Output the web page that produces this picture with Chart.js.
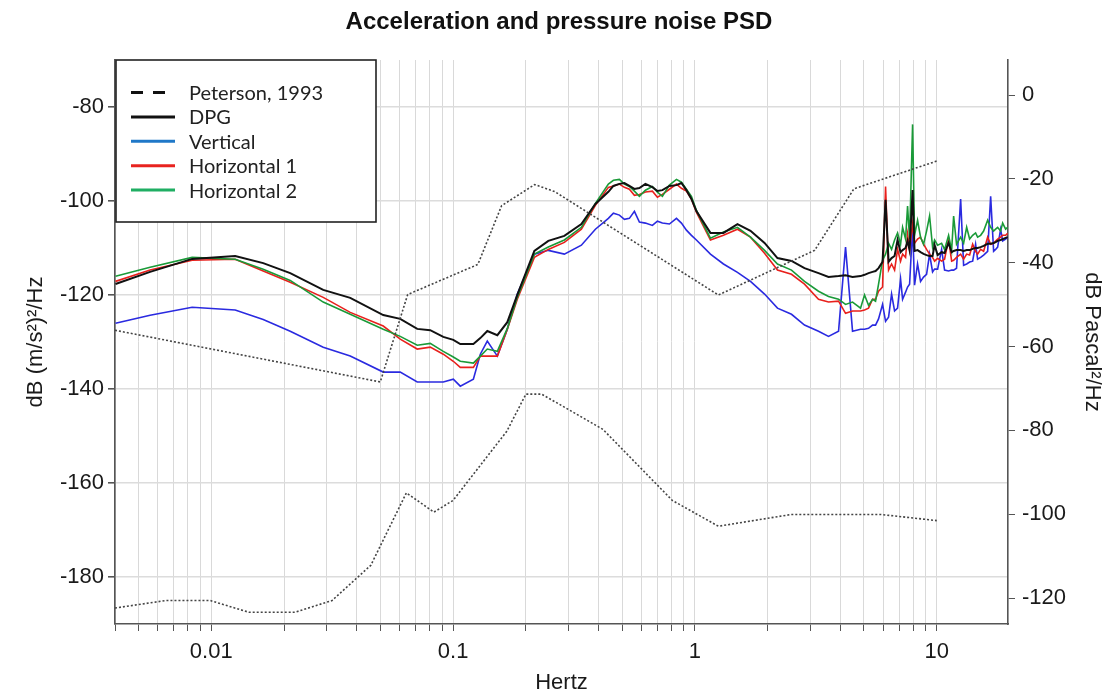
<!DOCTYPE html>
<html><head><meta charset="utf-8">
<script src="https://cdn.jsdelivr.net/npm/chart.js@4/dist/chart.umd.min.js"></script>
<style>html,body{margin:0;padding:0;background:#fff;}#wrap{width:1118px;height:692px;}</style>
</head><body><div id="wrap"><canvas id="c" width="1118" height="692" style="width:1118px;height:692px"></canvas></div>
<script>
// ---------- data ----------
const freqs = [0.00402,0.005588,0.008337,0.01256,0.0164,0.02121,0.02904,0.03756,0.05143,0.06046,0.07108,0.08044,0.0911,0.1002,0.1071,0.1213,0.1296,0.1385,0.1524,0.1676,0.1843,0.2168,0.2476,0.2884,0.3392,0.3876,
  0.4386,0.4601,0.4871,0.511,0.5357,0.562,0.5893,0.6241,0.667,0.6995,0.7336,0.7843,0.8386,0.8793,0.9222,0.9672,
  1.014,1.159,1.312,1.499,1.697,1.94,2.194,2.508,2.838,3.243,3.567,3.925,4.195,4.484,4.839,
  5.026,5.222,5.425,5.582,5.744,5.968,6.141,6.319,6.502,6.691,6.884,7.084,7.221,7.429,7.572,7.718,7.943,8.092,8.327,8.568,8.817,9.073,9.337,9.607,9.793,10.08,10.47,10.77,11.19,11.52,11.74,12.07,12.55,12.91,13.29,13.67,14.07,14.47,14.75,15.18,15.62,16.23,16.7,17.18,17.51,17.85,18.36,18.72,19.26,19.63];
const vertical = [-126.0,-124.3,-122.6,-123.2,-125.2,-127.7,-131.1,-133.0,-136.4,-136.4,-138.5,-138.5,-138.5,-137.9,-139.4,-137.9,-132.6,-129.8,-133.0,-127.3,-119.8,-111.3,-110.5,-111.3,-109.4,-106.0,
  -103.7,-102.6,-103.0,-103.9,-103.7,-102.2,-104.5,-104.7,-105.2,-104.3,-104.7,-104.9,-103.7,-104.7,-106.2,-107.3,
  -108.3,-111.3,-113.4,-115.2,-117.1,-119.8,-122.8,-124.1,-126.4,-127.7,-128.8,-127.7,-109.8,-127.7,-127.3,
  -127.3,-127.1,-126.4,-126.4,-125.1,-122.0,-125.6,-124.7,-119.8,-123.4,-122.8,-116.6,-120.9,-119.4,-118.3,-117.7,-105.6,-117.9,-113.4,-117.1,-116.2,-115.6,-111.3,-115.1,-114.5,-114.5,-110.3,-114.7,-114.9,-114.7,-114.7,-114.3,-99.6,-113.7,-113.4,-113.0,-112.8,-109.2,-112.4,-112.0,-111.5,-110.7,-99.0,-110.7,-110.3,-109.8,-106.0,-108.5,-108.1,-107.7];
const horizontal1 = [-117.1,-114.7,-112.6,-112.4,-114.9,-117.3,-120.5,-123.7,-126.6,-129.4,-131.5,-131.1,-132.6,-134.1,-135.4,-135.4,-133.0,-133.0,-133.0,-127.3,-120.9,-112.0,-110.3,-108.8,-106.0,-100.9,
  -97.1,-96.8,-96.4,-97.1,-97.5,-98.8,-98.6,-98.1,-97.9,-99.2,-98.6,-97.5,-96.4,-97.3,-97.9,-99.6,
  -102.4,-108.3,-107.3,-106.0,-107.7,-111.1,-114.7,-115.6,-117.7,-120.9,-121.5,-121.3,-123.9,-123.4,-123.4,
  -123.2,-122.8,-120.9,-120.9,-119.2,-118.3,-96.9,-114.7,-113.4,-114.7,-110.3,-112.8,-111.3,-112.0,-107.1,-110.3,-104.9,-109.0,-108.1,-107.7,-109.2,-110.3,-111.3,-112.0,-112.8,-112.2,-112.8,-112.4,-108.1,-112.8,-112.6,-112.0,-111.3,-112.4,-111.3,-111.5,-109.2,-110.7,-111.3,-110.3,-110.7,-107.7,-109.2,-109.0,-108.5,-108.1,-107.7,-107.3,-107.3,-106.9];
const horizontal2 = [-116.0,-114.1,-112.0,-112.4,-114.5,-116.9,-121.5,-124.1,-127.3,-128.8,-130.7,-130.3,-132.0,-133.2,-134.1,-134.5,-133.0,-131.5,-132.0,-127.1,-120.5,-111.3,-109.8,-108.3,-105.6,-100.5,
  -96.4,-95.6,-95.4,-96.4,-96.9,-97.9,-99.0,-97.7,-96.9,-98.1,-99.0,-96.6,-95.4,-96.0,-97.5,-99.0,
  -102.0,-107.9,-106.6,-105.6,-107.7,-110.5,-113.4,-114.7,-117.1,-119.2,-120.3,-120.9,-122.0,-121.5,-122.8,
  -120.0,-122.2,-120.9,-121.3,-117.7,-112.6,-111.3,-109.0,-110.3,-108.3,-106.8,-109.2,-105.6,-108.1,-101.1,-108.1,-83.7,-107.3,-104.1,-107.7,-109.2,-106.4,-103.2,-109.8,-108.3,-109.4,-109.0,-110.3,-107.3,-110.5,-103.2,-109.2,-107.7,-109.0,-105.6,-108.1,-107.3,-106.8,-107.7,-107.3,-106.4,-104.1,-105.6,-106.4,-106.0,-105.6,-106.4,-104.7,-106.0,-105.6];
const dpg = [-45.1,-42.2,-39.1,-38.4,-40.1,-42.5,-46.5,-48.4,-52.5,-53.4,-55.8,-56.1,-57.7,-58.4,-59.4,-59.4,-58.0,-56.3,-57.3,-54.2,-47.7,-37.2,-34.8,-33.6,-30.8,-26.0,
  -23.1,-21.7,-21.2,-21.0,-21.7,-22.4,-22.2,-21.2,-22.0,-22.9,-22.7,-21.7,-21.5,-21.0,-22.7,-24.8,
  -27.7,-32.9,-32.9,-30.8,-32.4,-35.3,-38.9,-39.6,-41.3,-42.5,-43.4,-43.2,-43.0,-43.4,-43.2,
  -42.9,-42.5,-42.2,-42.0,-41.3,-39.8,-25.0,-39.8,-38.9,-38.4,-34.6,-37.5,-37.0,-36.5,-34.8,-37.0,-22.7,-37.2,-37.0,-37.5,-37.9,-38.2,-38.4,-38.4,-35.8,-38.2,-37.5,-37.7,-35.3,-37.5,-37.2,-37.0,-37.0,-37.2,-37.0,-37.0,-36.7,-36.5,-36.5,-36.3,-36.0,-35.5,-35.5,-35.3,-35.1,-34.8,-34.6,-34.4,-34.1,-33.9];
// Peterson (1993) low / high noise models
const nlnmFreqs = [0.004,0.0065,0.0099,0.0143,0.0222,0.0316,0.0457,0.0641,0.0833,0.1,0.1667,0.2,0.2326,0.4167,0.806,1.25,2.5,5.88,10];
const nlnmDb    = [-186.6,-185.0,-185.0,-187.5,-187.5,-185.0,-177.5,-162.1,-166.2,-163.7,-149.0,-141.1,-141.1,-148.6,-163.7,-169.2,-166.7,-166.7,-168.0];
const nhnmFreqs = [0.004,0.05,0.0649,0.1266,0.1587,0.2174,0.2632,1.25,3.125,4.545,10];
const nhnmDb    = [-127.5,-138.5,-119.9,-113.5,-101.0,-96.5,-98.0,-120.0,-110.5,-97.4,-91.5];
// ticks
const xTickValues = [0.004,0.005,0.006,0.007,0.008,0.009,0.01,0.02,0.03,0.04,0.05,0.06,0.07,0.08,0.09,0.1,0.2,0.3,0.4,0.5,0.6,0.7,0.8,0.9,1,2,3,4,5,6,7,8,9,10];
const xTickLabels = [0.01,0.1,1,10];
const leftTicks = [-180,-160,-140,-120,-100,-80];
const rightTicks = [-120,-100,-80,-60,-40,-20,0];
const seriesNames = ['Peterson, 1993','DPG','Vertical','Horizontal 1','Horizontal 2'];

// ---------- chart ----------
const pts = (xs, ys) => xs.map((x,i)=>({x:x, y:ys[i]}));
const FONT = "'Liberation Sans', Arial, sans-serif";
const line = (label, data, color, width, order, axis, dash) => ({
  label, data, borderColor: color, backgroundColor: color, borderWidth: width,
  pointRadius: 0, tension: 0, fill: false, order, yAxisID: axis, borderDash: dash || []
});

const legendPlugin = {
  id: 'boxLegend',
  afterDatasetsDraw(chart) {
    const ctx = chart.ctx;
    const L = 116, T = 60, W = 260, H = 162;
    const items = [
      {c:'#111', d:[12,10]}, {c:'#111'}, {c:'#1f78c8'}, {c:'#e8231f'}, {c:'#1fae63'}
    ];
    ctx.save();
    ctx.fillStyle = '#fff';
    ctx.fillRect(L, T, W, H);
    ctx.lineWidth = 1.6; ctx.strokeStyle = '#222';
    ctx.strokeRect(L, T, W, H);
    ctx.font = "20px Lato, 'Open Sans', sans-serif";
    ctx.textBaseline = 'middle';
    items.forEach((it, i) => {
      const y = 92.5 + i * 24.4;
      ctx.beginPath();
      ctx.setLineDash(it.d || []);
      ctx.lineWidth = 3; ctx.strokeStyle = it.c;
      ctx.moveTo(131, y); ctx.lineTo(175, y); ctx.stroke();
      ctx.setLineDash([]);
      ctx.fillStyle = '#222';
      ctx.fillText(seriesNames[i], 189, y + 1);
    });
    ctx.restore();
  }
};

new Chart(document.getElementById('c'), {
  type: 'line',
  data: {
    datasets: [
      line('Peterson NLNM', pts(nlnmFreqs, nlnmDb), '#444', 1.6, 0, 'y', [2,2]),
      line('Peterson NHNM', pts(nhnmFreqs, nhnmDb), '#444', 1.6, 1, 'y', [2,2]),
      line(seriesNames[1], pts(freqs, dpg), '#111', 2, 2, 'y2'),
      line(seriesNames[4], pts(freqs, horizontal2), '#1a9a38', 1.6, 3, 'y'),
      line(seriesNames[3], pts(freqs, horizontal1), '#e8201c', 1.6, 4, 'y'),
      line(seriesNames[2], pts(freqs, vertical), '#2a2ae0', 1.6, 5, 'y')
    ]
  },
  options: {
    responsive: false, animation: false, devicePixelRatio: 1, events: [],
    layout: { padding: 0 },
    plugins: {
      legend: { display: false }, tooltip: { enabled: false },
      title: { display: true, text: 'Acceleration and pressure noise PSD', color: '#111',
        font: { family: FONT, size: 24, weight: 'bold', lineHeight: 1.2 },
        padding: { top: 7.6, bottom: 23.6 } }
    },
    scales: {
      x: {
        type: 'logarithmic', position: 'bottom', min: 0.004, max: 19.7,
        afterBuildTicks: s => { s.ticks = xTickValues.map(v => ({value: v})); },
        afterFit: s => { s.height = 68; },
        ticks: { autoSkip: false, maxRotation: 0, minRotation: 0, padding: 8, color: '#1a1a1a',
          font: { family: FONT, size: 22 },
          callback: v => xTickLabels.includes(v) ? String(v) : '' },
        grid: { color: '#d9d9d9', lineWidth: 1, tickColor: '#555', tickLength: 7 },
        border: { color: '#555', width: 1.6 },
        title: { display: true, text: 'Hertz', color: '#1a1a1a', font: { family: FONT, size: 22 }, padding: { top: 0, bottom: -4 } }
      },
      y: {
        type: 'linear', position: 'left', min: -190, max: -70,
        afterBuildTicks: s => { s.ticks = leftTicks.map(v => ({value: v})); },
        afterFit: s => { s.width = 115; },
        ticks: { padding: 4, color: '#1a1a1a', font: { family: FONT, size: 22 } },
        grid: { color: '#dcdcdc', lineWidth: 1.6, tickColor: '#555', tickLength: 7 },
        border: { color: '#555', width: 1.6 },
        title: { display: true, text: 'dB (m/s²)²/Hz', color: '#1a1a1a', font: { family: FONT, size: 22 }, padding: { top: 23 } }
      },
      y2: {
        type: 'linear', position: 'right', min: -126.2, max: 8.35,
        afterBuildTicks: s => { s.ticks = rightTicks.map(v => ({value: v})); },
        afterFit: s => { s.width = 110; },
        ticks: { padding: 7, color: '#1a1a1a', font: { family: FONT, size: 22 } },
        grid: { drawOnChartArea: false, tickColor: '#555', tickLength: 7 },
        border: { color: '#555', width: 1.6 },
        title: { display: true, text: 'dB Pascal²/Hz', color: '#1a1a1a', font: { family: FONT, size: 22 }, padding: { top: 13 } }
      }
    }
  },
  plugins: [legendPlugin]
});
</script>
</body></html>
